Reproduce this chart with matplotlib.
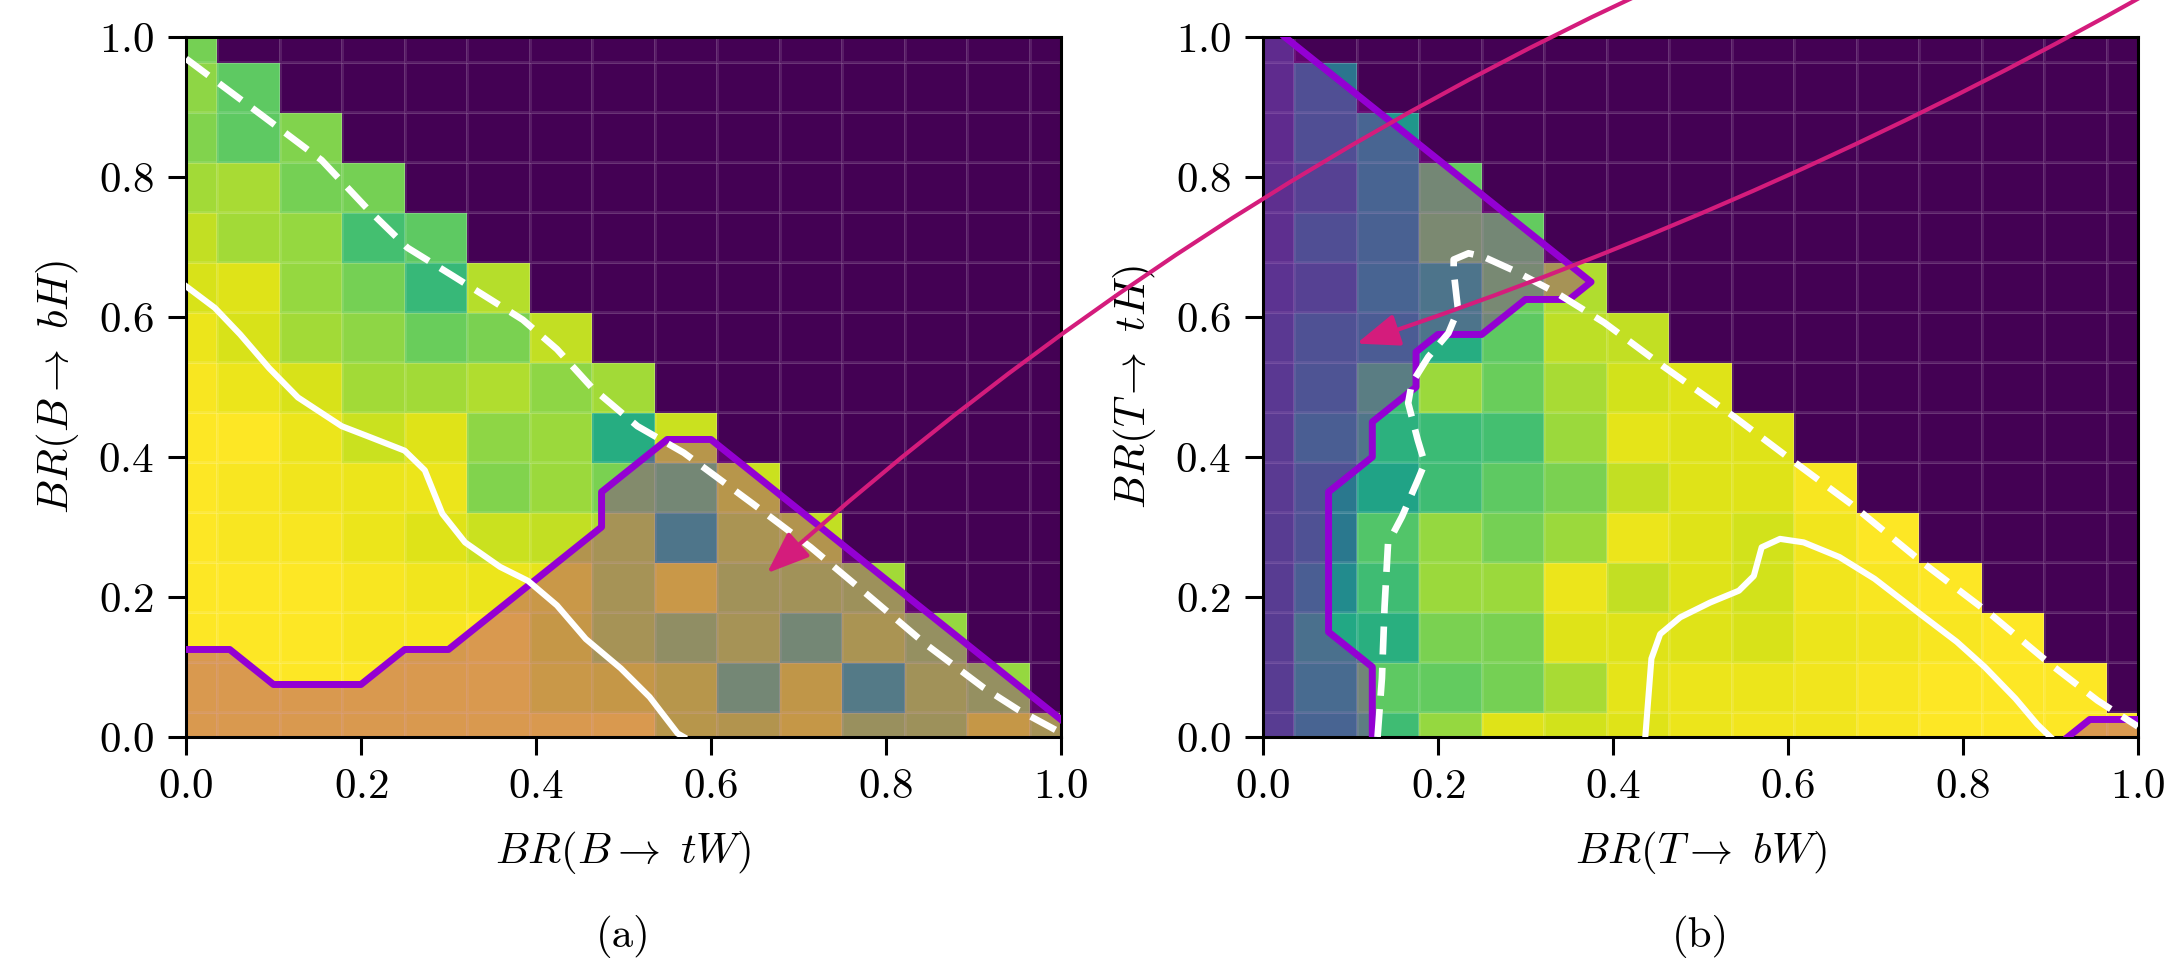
import matplotlib.pyplot as plt
import numpy as np
from matplotlib.patches import ConnectionPatch

plt.rcParams['font.family'] = 'serif'
plt.rcParams['font.serif'] = ['cmr10']
plt.rcParams['mathtext.fontset'] = 'cm'
plt.rcParams['axes.formatter.use_mathtext'] = True
plt.rcParams['font.size'] = 31

#Branching ratio grid (cell centres)
br = np.linspace(0, 1, 15)

#Sensitivity per cell, one list per BR(->H) row, bottom row first
#Only cells with BR(->W) + BR(->H) <= 1 are filled
sens_a = [
    [1.0, 1.0, 1.0, 1.0, 1.0, 1.0, 1.0, 1.0, 0.92, 0.91, 0.95, 0.85, 0.86, 0.95, 0.88],
    [1.0, 1.0, 1.0, 1.0, 1.0, 1.0, 0.96, 0.95, 0.92, 0.76, 0.94, 0.66, 0.87, 0.84],
    [1.0, 1.0, 1.0, 0.99, 0.99, 1.0, 0.95, 0.88, 0.83, 0.88, 0.76, 0.89, 0.84],
    [1.0, 1.0, 1.0, 0.99, 0.98, 0.97, 0.96, 0.88, 0.96, 0.87, 0.87, 0.86],
    [1.0, 0.99, 0.99, 0.97, 0.95, 0.92, 0.91, 0.88, 0.63, 0.89, 0.91],
    [1.0, 0.99, 0.98, 0.97, 0.97, 0.81, 0.85, 0.80, 0.76, 0.92],
    [1.0, 1.0, 0.97, 0.92, 0.95, 0.83, 0.85, 0.62, 0.92],
    [0.99, 0.97, 0.94, 0.86, 0.86, 0.88, 0.83, 0.86],
    [0.97, 0.94, 0.86, 0.83, 0.77, 0.80, 0.91],
    [0.94, 0.95, 0.84, 0.79, 0.67, 0.89],
    [0.91, 0.86, 0.84, 0.70, 0.75],
    [0.86, 0.87, 0.79, 0.79],
    [0.81, 0.75, 0.81],
    [0.83, 0.75],
    [0.79],
]
sens_b = [
    [0.27, 0.52, 0.69, 0.84, 0.95, 0.93, 0.95, 0.97, 0.98, 0.98, 0.99, 1.0, 1.0, 1.0, 1.0],
    [0.27, 0.56, 0.75, 0.76, 0.79, 0.87, 0.96, 0.97, 0.97, 0.98, 0.99, 1.0, 1.0, 1.0],
    [0.27, 0.60, 0.63, 0.80, 0.80, 0.95, 0.95, 0.95, 0.94, 0.97, 0.98, 0.99, 1.0],
    [0.27, 0.48, 0.69, 0.85, 0.85, 0.97, 0.91, 0.95, 0.93, 0.98, 0.99, 1.0],
    [0.27, 0.40, 0.73, 0.84, 0.79, 0.85, 0.97, 0.95, 0.93, 0.98, 1.0],
    [0.26, 0.40, 0.58, 0.69, 0.75, 0.80, 0.91, 0.95, 0.95, 0.99],
    [0.26, 0.48, 0.64, 0.68, 0.70, 0.85, 0.96, 0.95, 0.95],
    [0.25, 0.42, 0.68, 0.85, 0.77, 0.87, 0.93, 0.95],
    [0.25, 0.40, 0.47, 0.62, 0.75, 0.90, 0.91],
    [0.22, 0.30, 0.52, 0.62, 0.77, 0.88],
    [0.20, 0.38, 0.50, 0.78, 0.76],
    [0.20, 0.30, 0.52, 0.76],
    [0.18, 0.38, 0.53],
    [0.18, 0.39],
    [0.18],
]

#Expected limit contours (white solid) and observed (white dashed)
exp_a_x = [0, 0.033, 0.062, 0.095, 0.128, 0.178, 0.207, 0.25, 0.273, 0.293, 0.319, 0.359, 0.391, 0.424, 0.457, 0.497, 0.530, 0.562, 0.569]
exp_a_y = [0.644, 0.613, 0.575, 0.527, 0.485, 0.444, 0.430, 0.409, 0.381, 0.319, 0.278, 0.243, 0.223, 0.188, 0.140, 0.098, 0.057, 0.005, 0.0]
obs_a_x = [0, 0.030, 0.089, 0.155, 0.207, 0.253, 0.306, 0.385, 0.424, 0.464, 0.516, 0.569, 0.648, 0.714, 0.780, 0.845, 0.911, 0.951, 0.997]
obs_a_y = [0.969, 0.941, 0.886, 0.824, 0.755, 0.699, 0.658, 0.596, 0.554, 0.499, 0.444, 0.406, 0.333, 0.271, 0.202, 0.133, 0.071, 0.039, 0.008]

exp_b_x = [0.437, 0.444, 0.454, 0.477, 0.511, 0.544, 0.561, 0.570, 0.591, 0.618, 0.659, 0.699, 0.753, 0.793, 0.825, 0.860, 0.885, 0.900]
exp_b_y = [0.0, 0.112, 0.147, 0.171, 0.192, 0.209, 0.230, 0.271, 0.283, 0.278, 0.257, 0.226, 0.174, 0.136, 0.100, 0.055, 0.018, 0.0]
obs_b_x = [0.131, 0.136, 0.139, 0.143, 0.159, 0.177, 0.185, 0.177, 0.166, 0.170, 0.189, 0.212, 0.223, 0.218, 0.218, 0.235, 0.252,
           0.289, 0.336, 0.390, 0.457, 0.538, 0.605, 0.672, 0.753, 0.833, 0.901, 0.954, 1.0]
obs_b_y = [0.0, 0.084, 0.186, 0.277, 0.315, 0.367, 0.391, 0.424, 0.477, 0.505, 0.543, 0.577, 0.610, 0.665, 0.682, 0.691, 0.686,
           0.665, 0.634, 0.592, 0.530, 0.458, 0.395, 0.333, 0.250, 0.174, 0.103, 0.052, 0.015]

#Excluded region boundaries (purple)
excl_a_x = [0, 0.05, 0.1, 0.2, 0.25, 0.3, 0.475, 0.475, 0.55, 0.6, 1.0]
excl_a_y = [0.125, 0.125, 0.075, 0.075, 0.125, 0.125, 0.3, 0.35, 0.425, 0.425, 0.025]
excl_b_x = [0.025, 0.375, 0.35, 0.3, 0.25, 0.2, 0.175, 0.175, 0.125, 0.125, 0.075, 0.075, 0.125, 0.125]
excl_b_y = [1.0, 0.65, 0.625, 0.625, 0.575, 0.575, 0.55, 0.5, 0.45, 0.4, 0.35, 0.15, 0.1, 0.0]
excl_b2_x = [0.92, 0.945, 1.0]
excl_b2_y = [0.0, 0.025, 0.025]

purple = 'darkviolet'
shade = '#960aa0'
pink = '#d41c7c'

cmap = plt.get_cmap('viridis').copy()
cmap.set_bad(cmap(0.0))

#Fill the lower-left triangle of a 15x15 grid
def triangle(rows):
    z = np.full((15, 15), np.nan)
    for j, row in enumerate(rows):
        z[j, :len(row)] = row
    return np.ma.masked_invalid(z)

def heatmap(ax, rows):
    ax.pcolormesh(br, br, triangle(rows), cmap=cmap, vmin=0, vmax=1, shading='nearest',
                  edgecolors=(1, 1, 1, 0.11), linewidth=0.8)
    ax.set_xlim(0, 1)
    ax.set_ylim(0, 1)
    ax.set_xticks(np.arange(0, 1.01, 0.2))
    ax.set_yticks(np.arange(0, 1.01, 0.2))
    ax.tick_params(length=13, width=2.2, pad=10, labelsize=31)
    for s in ax.spines.values():
        s.set_linewidth(2.2)

fig = plt.figure(figsize=(21.7, 9.6), dpi=100)
ax_a = fig.add_axes([0.0857, 0.2323, 0.4032, 0.7292])
ax_b = fig.add_axes([0.5820, 0.2323, 0.4032, 0.7292])

#Panel (a): B quark
heatmap(ax_a, sens_a)
ax_a.fill_between(excl_a_x, 0, excl_a_y, color=shade, alpha=0.35, lw=0, zorder=2)
ax_a.plot(excl_a_x, excl_a_y, color=purple, lw=5, zorder=3)
ax_a.plot(exp_a_x, exp_a_y, color='white', lw=4.4, zorder=4)
ax_a.plot(obs_a_x, obs_a_y, color='white', lw=4.8, dashes=(4.2, 2.0), zorder=4)
ax_a.set_xlabel(r'$BR(B\rightarrow\ tW)$', va='center')
ax_a.set_ylabel(r'$BR(B\rightarrow\ bH)$', va='center')

#Panel (b): T quark
heatmap(ax_b, sens_b)
ax_b.fill([0] + excl_b_x + [0], [1.0] + excl_b_y + [0.0], color=shade, alpha=0.35, lw=0, zorder=2)
ax_b.fill_between(excl_b2_x, 0, excl_b2_y, color=shade, alpha=0.35, lw=0, zorder=2)
ax_b.plot(excl_b_x, excl_b_y, color=purple, lw=5, zorder=3)
ax_b.plot(excl_b2_x, excl_b2_y, color=purple, lw=5, zorder=3)
ax_b.plot(exp_b_x, exp_b_y, color='white', lw=4.4, zorder=4)
ax_b.plot(obs_b_x, obs_b_y, color='white', lw=4.8, dashes=(4.2, 2.0), zorder=4)
ax_b.set_xlabel(r'$BR(T\rightarrow\ bW)$', va='center')
ax_b.set_ylabel(r'$BR(T\rightarrow\ tH)$', va='center')

for ax in (ax_a, ax_b):
    ax.xaxis.set_label_coords(0.5, -0.165)
    ax.yaxis.set_label_coords(-0.147, 0.5)

fig.text(0.2873, 0.024, '(a)', ha='center', va='center', fontsize=31)
fig.text(0.7836, 0.024, '(b)', ha='center', va='center', fontsize=31)

#Curved pointers coming in from above the figure
def pointer(ax, tip, start, rad):
    con = ConnectionPatch(xyA=start, coordsA='figure pixels', xyB=tip, coordsB=ax.transData,
                          arrowstyle='-|>,head_length=1.3,head_width=0.5',
                          connectionstyle='arc3,rad=%g' % rad, color=pink, lw=3,
                          mutation_scale=20, shrinkA=0, shrinkB=0, zorder=10)
    con.set_annotation_clip(False)
    fig.add_artist(con)

pointer(ax_a, (0.664, 0.234), (1686, 987), 0.078)
pointer(ax_b, (0.107, 0.562), (2180, 985), -0.05)

plt.savefig('out.png', dpi=100)
